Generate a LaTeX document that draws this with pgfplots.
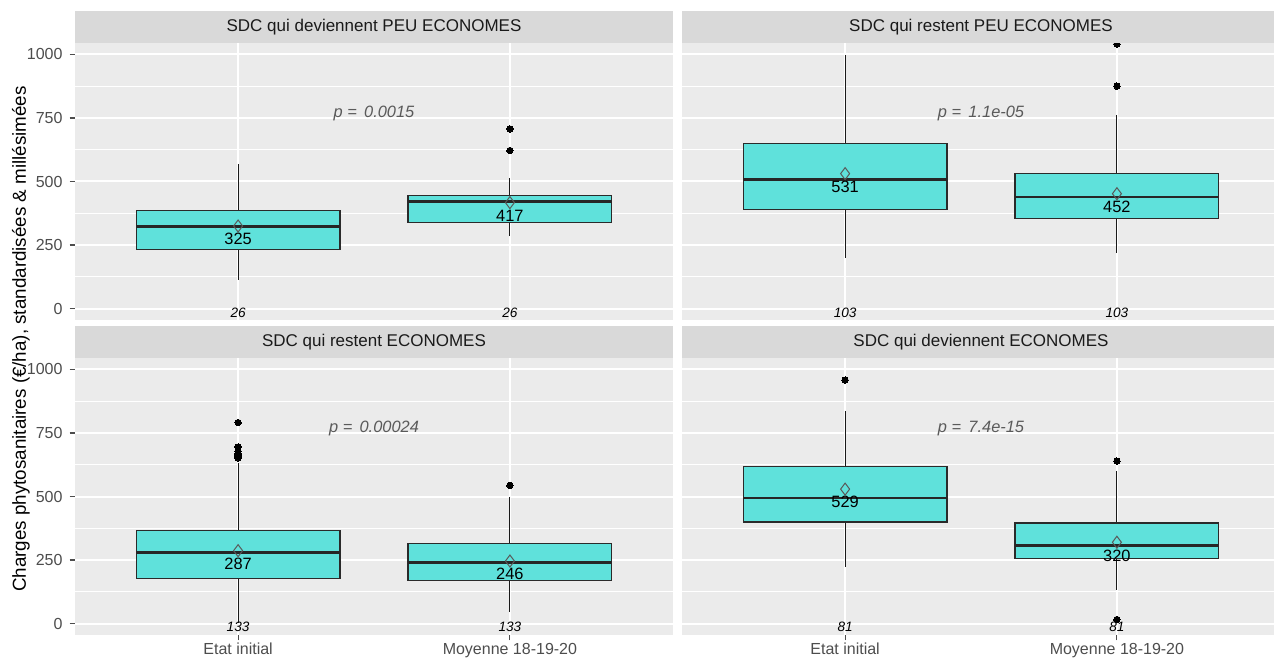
\documentclass[border=0pt]{standalone}
\usepackage{fontspec}
\setmainfont{Liberation Sans}
\usepackage{pgfplots}
\pgfplotsset{compat=1.18}

\definecolor{panelbg}{HTML}{EBEBEB}
\definecolor{stripbg}{HTML}{D9D9D9}
\definecolor{turq}{HTML}{5FE1DB}
\definecolor{gray30}{HTML}{4D4D4D}
\definecolor{striptxt}{HTML}{1A1A1A}
\definecolor{pgray}{HTML}{5A5A5A}
\definecolor{boxline}{HTML}{2A2A2A}

\newcommand{\tickfont}{\fontsize{8}{9.5}\selectfont}
\newcommand{\stripfont}{\fontsize{8.5}{10}\selectfont}
\newcommand{\meanfont}{\fontsize{8.2}{10}\selectfont}
\newcommand{\nfont}{\fontsize{6.8}{8}\selectfont\itshape}
\newcommand{\pfont}{\fontsize{8.2}{10}\selectfont\itshape}

\pgfplotsset{
  panel/.style={
    scale only axis, width=299pt, height=138.5pt,
    xmin=0.4, xmax=2.6, ymin=-45, ymax=1045,
    axis background/.style={fill=panelbg},
    axis line style={draw=none},
    xtick={1,2}, ytick={0,250,500,750,1000},
    minor ytick={125,375,625,875},
    xmajorgrids, ymajorgrids, yminorgrids,
    major grid style={white, line width=1pt},
    minor grid style={white, line width=0.45pt},
    tick align=outside, major tick length=2.7pt, minor tick length=0pt,
    tick style={color=gray30, line width=0.55pt},
    xtick pos=bottom, ytick pos=left,
    ticklabel style={font=\tickfont, text=gray30},
    /pgf/number format/assume math mode=true,
    /pgf/number format/1000 sep={},
    xticklabel style={yshift=2.3pt},
    xticklabels={Etat initial, Moyenne 18-19-20},
    clip=true,
  },
  notick x/.style={xticklabels={}, xtick style={draw=none}},
  notick y/.style={yticklabels={}, ytick style={draw=none}},
  whisk/.style={draw=black!90, line width=0.55pt, mark=none},
  boxst/.style={draw=boxline, fill=turq, line width=0.6pt, mark=none},
  medst/.style={draw=black!85, line width=1.4pt, mark=none},
  outl/.style={only marks, mark=*, mark size=1.6pt, mark options={fill=black, draw=black, line width=0pt}},
  meanmark/.style={only marks, mark=diamond, mark size=3pt,
    mark options={draw=gray!70!black, fill=none, line width=0.5pt}},
}

% #1 left, #2 centre, #3 right, #4 lower whisker, #5 Q1, #6 median, #7 Q3, #8 upper whisker
\newcommand{\bxp}[8]{%
  \addplot[whisk] coordinates {(#2,#4) (#2,#5)};
  \addplot[whisk] coordinates {(#2,#7) (#2,#8)};
  \addplot[boxst] coordinates {(#1,#5) (#3,#5) (#3,#7) (#1,#7)} --cycle;
  \addplot[medst] coordinates {(#1,#6) (#3,#6)};
}

\begin{document}
\begin{tikzpicture}
\useasboundingbox (0,0) rectangle (637pt,329.5pt);

% ---------- top left ----------
\begin{axis}[panel, notick x, name=tl, at={(37.5pt,169.5pt)}, anchor=south west]
\bxp{0.625}{1}{1.375}{114}{232}{324}{386}{567}
\bxp{1.625}{2}{2.375}{285}{340}{420}{446}{514}
\addplot[outl] coordinates {(2,707) (2,622)};
\addplot[meanmark] coordinates {(1,325) (2,417)};
\node[font=\meanfont, yshift=-6.6pt] at (axis cs:1,325) {325};
\node[font=\meanfont, yshift=-6.6pt] at (axis cs:2,417) {417};
\node[font=\nfont] at (axis cs:1,-15) {26};
\node[font=\nfont] at (axis cs:2,-15) {26};
\node[font=\pfont, text=pgray] at (axis cs:1.5,768) {p = \,0.0015};
\end{axis}

% ---------- top right ----------
\begin{axis}[panel, notick x, notick y, name=tr, at={(341pt,169.5pt)}, anchor=south west]
\bxp{0.625}{1}{1.375}{199}{390}{508}{648}{996}
\bxp{1.625}{2}{2.375}{219}{354}{439}{531}{760}
\addplot[outl] coordinates {(2,875) (2,1041)};
\addplot[meanmark] coordinates {(1,531) (2,452)};
\node[font=\meanfont, yshift=-6.6pt] at (axis cs:1,531) {531};
\node[font=\meanfont, yshift=-6.6pt] at (axis cs:2,452) {452};
\node[font=\nfont] at (axis cs:1,-15) {103};
\node[font=\nfont] at (axis cs:2,-15) {103};
\node[font=\pfont, text=pgray] at (axis cs:1.5,768) {p = \,1.1e-05};
\end{axis}

% ---------- bottom left ----------
\begin{axis}[panel, name=bl, at={(37.5pt,12pt)}, anchor=south west]
\bxp{0.625}{1}{1.375}{3}{177}{280}{365}{632}
\bxp{1.625}{2}{2.375}{46}{168}{240}{315}{498}
\addplot[outl] coordinates {(1,791) (1,695) (1,678) (1,668) (1,660) (1,652) (2,544)};
\addplot[meanmark] coordinates {(1,287) (2,246)};
\node[font=\meanfont, yshift=-6.6pt] at (axis cs:1,287) {287};
\node[font=\meanfont, yshift=-6.6pt] at (axis cs:2,246) {246};
\node[font=\nfont] at (axis cs:1,-13) {133};
\node[font=\nfont] at (axis cs:2,-13) {133};
\node[font=\pfont, text=pgray] at (axis cs:1.5,768) {p = \,0.00024};
\end{axis}

% ---------- bottom right ----------
\begin{axis}[panel, notick y, name=br, at={(341pt,12pt)}, anchor=south west]
\bxp{0.625}{1}{1.375}{223}{400}{494}{617}{836}
\bxp{1.625}{2}{2.375}{134}{257}{306}{396}{601}
\addplot[outl] coordinates {(1,958) (2,639) (2,16)};
\addplot[meanmark] coordinates {(1,529) (2,320)};
\node[font=\meanfont, yshift=-6.6pt] at (axis cs:1,529) {529};
\node[font=\meanfont, yshift=-6.6pt] at (axis cs:2,320) {320};
\node[font=\nfont] at (axis cs:1,-13) {81};
\node[font=\nfont] at (axis cs:2,-13) {81};
\node[font=\pfont, text=pgray] at (axis cs:1.5,768) {p = \,7.4e-15};
\end{axis}

% ---------- strips ----------
\foreach \ax/\txt in {tl/SDC qui deviennent PEU ECONOMES, tr/SDC qui restent PEU ECONOMES, bl/SDC qui restent ECONOMES, br/SDC qui deviennent ECONOMES}{
  \fill[stripbg] (\ax.north west) rectangle ([yshift=15.8pt]\ax.north east);
  \node[font=\stripfont, text=striptxt] at ([yshift=7.9pt]\ax.north) {\txt};
}

% ---------- y label ----------
\node[rotate=90, font=\fontsize{9.4}{11}\selectfont, text=black] at (10.5pt,160pt)
  {Charges phytosanitaires (€/ha), standardisées \& millésimées};
\end{tikzpicture}
\end{document}
